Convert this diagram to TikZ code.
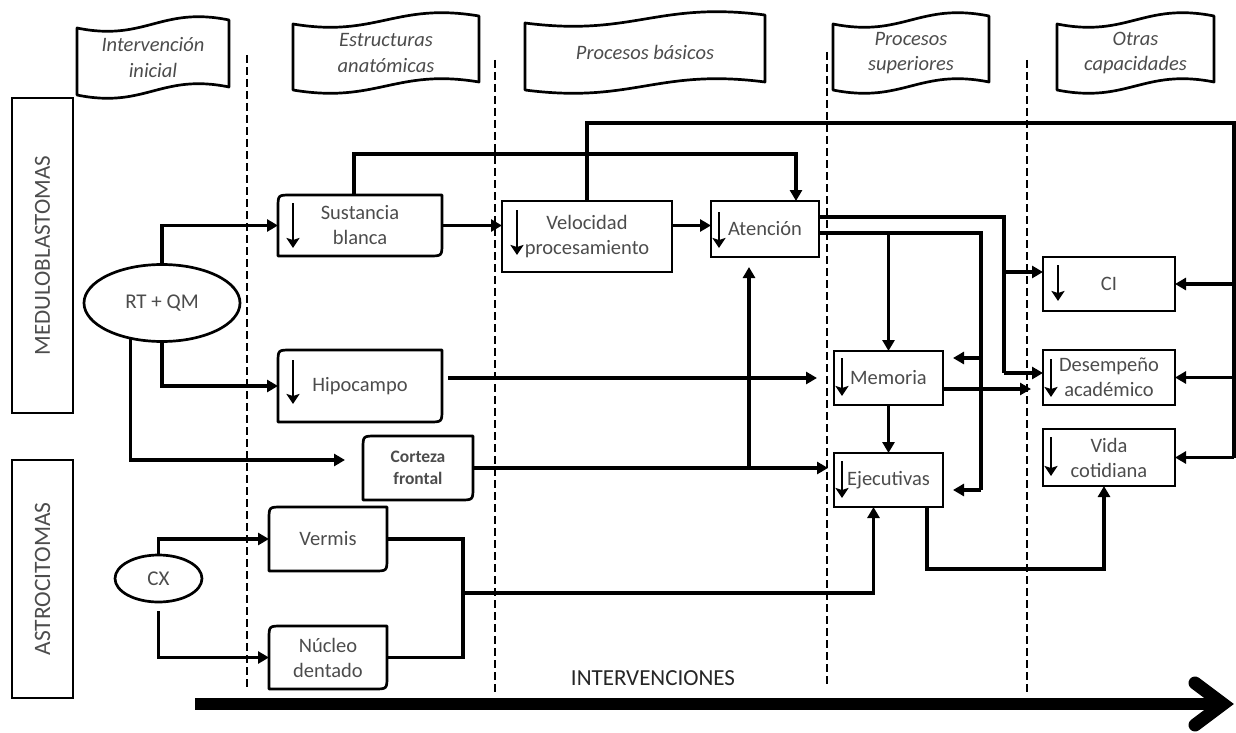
\documentclass[tikz,border=0pt]{standalone}
\usepackage{fontspec}
\setmainfont{Carlito}
\usetikzlibrary{arrows.meta,shapes.geometric,calc}
\newcommand\rdout[1]{\draw[outl] (#1.south west) -- ([yshift=-13pt]#1.north west) .. controls (#1.north west) .. ([xshift=13pt]#1.north west) -- (#1.north east) -- ([yshift=13pt]#1.south east) .. controls (#1.south east) .. ([xshift=-13pt]#1.south east) -- cycle;}
\newcommand\bannerout[1]{\draw[outl] ($(#1.north west)+(0,4)$) .. controls ($(#1.north west)!0.45!(#1.north east)+(0,18)$) and ($(#1.north west)!0.55!(#1.north east)+(0,-18)$) .. ($(#1.north east)+(0,-4)$) -- ($(#1.south east)+(0,-4)$) .. controls ($(#1.south west)!0.55!(#1.south east)+(0,-18)$) and ($(#1.south west)!0.45!(#1.south east)+(0,18)$) .. ($(#1.south west)+(0,4)$) -- cycle;}
\newcommand\darrow[4]{\draw[darr] ([xshift=#2pt,yshift=-#3pt]#1.north west) -- ([xshift=#2pt,yshift=#4pt]#1.south west);}
\begin{document}
\begin{tikzpicture}[x=1pt,y=-1pt,
  txt/.style={text=black!70, font=\fontsize{20.5}{25}\selectfont, align=center},
  bx/.style={txt, draw=black, line width=2.7pt, rectangle, inner sep=0pt, outer sep=0pt},
  rb/.style={txt, rectangle, inner sep=0pt, outer sep=0pt},
  el/.style={txt, draw=black, line width=2.7pt, ellipse, inner sep=0pt, outer sep=0pt, font=\fontsize{21}{25}\selectfont},
  hdr/.style={txt, rectangle, inner sep=0pt, outer sep=0pt, font=\fontsize{20.5}{25.5}\selectfont\itshape},
  conn/.style={line width=3.1pt, -{Triangle[length=11pt,width=12pt]}},
  wire/.style={line width=3.1pt},
  darr/.style={line width=2pt, -{Stealth[length=10pt,width=13pt,inset=2pt]}},
  sep/.style={line width=2pt, dash pattern=on 8pt off 4pt},
  outl/.style={line width=2.7pt, line join=round},
]
\useasboundingbox (0,0) rectangle (1236,733);

% header banners
\node[hdr, minimum width=152pt, minimum height=67pt] (h1) at (153,57.5) {Intervención\\inicial};
\node[hdr, minimum width=186pt, minimum height=66pt] (h2) at (386,53) {Estructuras\\anatómicas};
\node[hdr, minimum width=240pt, minimum height=67pt] (h3) at (645,52.5) {Procesos básicos};
\node[hdr, minimum width=156pt, minimum height=66pt] (h4) at (911,53) {Procesos\\superiores};
\node[hdr, minimum width=157pt, minimum height=66pt] (h5) at (1135.5,53) {Otras\\capacidades};
\bannerout{h1}\bannerout{h2}\bannerout{h3}\bannerout{h4}\bannerout{h5}

% dashed separators
\draw[sep] (247,55) -- (247,688);
\draw[sep] (495,60) -- (495,692);
\draw[sep] (827,52) -- (827,685);
\draw[sep] (1027,60) -- (1027,692);

% side labels
\node[bx, rotate=90, minimum width=315pt, minimum height=61pt, font=\fontsize{23}{23}\selectfont] (med) at (42.5,255.5) {MEDULOBLASTOMAS};
\node[bx, rotate=90, minimum width=238pt, minimum height=61pt, font=\fontsize{23.5}{23}\selectfont] (ast) at (42.5,579) {ASTROCITOMAS};

% ellipses
\node[el, minimum width=156pt, minimum height=77pt] (rt) at (162,303) {RT + QM};
\node[el, minimum width=87pt, minimum height=47pt] (cx) at (158.5,578.5) {CX};

% anatomical structures
\node[rb, minimum width=164pt, minimum height=61pt] (sb) at (360,225.5) {Sustancia\\blanca};
\node[rb, minimum width=164pt, minimum height=72pt] (hip) at (360,386) {Hipocampo};
\node[rb, minimum width=110pt, minimum height=64pt, font=\fontsize{17.5}{22}\selectfont\bfseries] (cf) at (418,468) {Corteza\\frontal};
\node[rb, minimum width=118pt, minimum height=64pt] (ve) at (328,539) {Vermis};
\node[rb, minimum width=118pt, minimum height=63pt] (nd) at (328,657.5) {Núcleo\\dentado};
\rdout{sb}\rdout{hip}\rdout{cf}\rdout{ve}\rdout{nd}

% processes and capacities
\node[bx, minimum width=170pt, minimum height=71pt] (vp) at (587,236.5) {Velocidad\\procesamiento};
\node[bx, minimum width=108pt, minimum height=56pt] (at) at (765,229) {Atención};
\node[bx, minimum width=109pt, minimum height=54pt] (me) at (888.5,378) {Memoria};
\node[bx, minimum width=109pt, minimum height=54pt] (ej) at (888.5,480) {Ejecutivas};
\node[bx, minimum width=132pt, minimum height=54pt] (ci) at (1109,284) {CI};
\node[bx, minimum width=132pt, minimum height=55pt] (de) at (1109,377.5) {Desempeño\\académico};
\node[bx, minimum width=132pt, minimum height=57pt] (vc) at (1109,457.5) {Vida\\cotidiana};

% decrease arrows inside boxes
\darrow{sb}{15}{8}{8}
\darrow{hip}{15}{10}{18}
\darrow{vp}{15}{9}{17}
\darrow{at}{8}{11}{9}
\darrow{me}{8}{7}{9}
\darrow{ej}{8}{8}{9}
\darrow{ci}{15}{8}{10}
\darrow{de}{8}{9}{8}
\darrow{vc}{8}{8}{10}

% connectors from treatments
\draw[conn] (rt.north) |- (sb.west);
\draw[conn] (rt.south) |- (hip.west);
\draw[conn, shorten >=18pt] (rt.228) |- ([yshift=8pt]cf.west);
\draw[conn] (cx.north) |- (ve.west);
\draw[conn, shorten <=9pt] (cx.south) |- (nd.west);

% basic processes
\draw[conn] (sb.east) -- (sb.east -| vp.west);
\draw[conn] (vp.east |- sb.east) -- (at.west |- sb.east);
\draw[conn] ([xshift=-6pt]sb.north) -- ++(0,-41) -| ([xshift=31pt]at.north);

% long feedback line to other capacities
\coordinate (rtop) at (1234,123);
\draw[wire] (vp.north) |- (rtop) -- (rtop |- vc.east);
\draw[conn] (rtop |- ci.east) -- (ci.east);
\draw[conn] (rtop |- de.east) -- (de.east);
\draw[conn] (rtop |- vc.east) -- (vc.east);

% attention outputs
\coordinate (jA) at (1004,217);
\coordinate (jB) at (1004,373);
\coordinate (jC) at (1004,272);
\draw[wire] ([yshift=12pt]at.east) -- (jA) -- (jB);
\draw[conn] (jB) -- (jB -| de.west);
\draw[conn] (jC) -- (jC -| ci.west);

\coordinate (kA) at (981,233);
\coordinate (kB) at (981,490);
\coordinate (kM) at (981,358);
\draw[wire] ([yshift=-4pt]at.east) -- (kA) -- (kB);
\draw[conn] (me.north |- kA) -- (me.north);
\draw[conn, shorten >=10pt] (kM) -- (kM -| me.east);
\draw[conn, shorten >=10pt] (kB) -- (kB -| ej.east);

% memory / executive
\coordinate (mo) at (943,389);
\draw[conn, shorten >=12pt] (mo) -- (mo -| de.west);
\draw[conn] (me.south) -- (ej.north);
\draw[conn, shorten <=6pt, shorten >=17pt] (hip.east |- me.west) -- (me.west);
\draw[conn, shorten >=6pt] (cf.east) -- (cf.east -| ej.west);
\coordinate (up) at (749,468);
\draw[conn, shorten >=10pt] (up) -- (up |- at.south);

% cerebellum to executive
\coordinate (vn) at (463,593);
\draw[wire] (ve.east) -| (vn) |- (nd.east);
\draw[conn] (vn) -| ([xshift=-15pt]ej.south);

% executive to daily life
\coordinate (eb) at (927,569);
\draw[conn] (eb |- ej.south) -- (eb) -| ([xshift=-5pt]vc.south);

% bottom arrow
\node[txt, font=\fontsize{23}{23}\selectfont, text=black!85] (iv) at (653,678) {INTERVENCIONES};
\draw[line width=12pt] (195,704) -- (1222,704);
\draw[line width=13pt, line cap=round, line join=miter] (1195,683) -- (1223,704) -- (1195,725);
\end{tikzpicture}
\end{document}
